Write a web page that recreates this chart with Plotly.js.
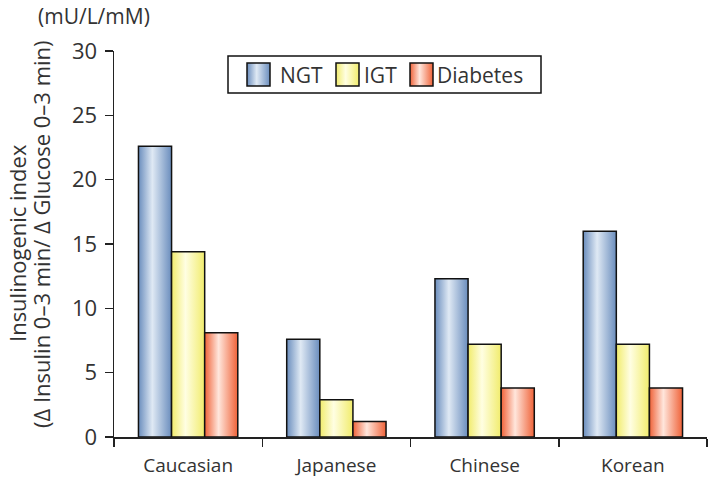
<!DOCTYPE html>
<html>
<head>
<meta charset="utf-8">
<script src="https://cdn.plot.ly/plotly-3.0.1.min.js"></script>
<style>
  html, body { margin: 0; padding: 0; background: #fff; }
  #chart { width: 709px; height: 481px; }
</style>
</head>
<body>
<div id="chart"></div>
<script>
// ---- Data ----
const categories = ["Caucasian", "Japanese", "Chinese", "Korean"];
const seriesNames = ["NGT", "IGT", "Diabetes"];
const ngtValues = [22.6, 7.6, 12.3, 16.0];
const igtValues = [14.4, 2.9, 7.2, 7.2];
const diabetesValues = [8.1, 1.2, 3.8, 3.8];
const yTickValues = [0, 5, 10, 15, 20, 25, 30];
const yTitleLines = ["Insulinogenic index", "(Δ Insulin 0–3 min/ Δ Glucose 0–3 min)"];
const unitLabel = "(mU/L/mM)";

// ---- Styles ----
const FONT = "Open Sans, Noto Sans, sans-serif";
const TEXT = "#333333";
const gradients = [
  { id: "gNGT", edge: "#6a8dbd", mid: "#dfe9f4" },
  { id: "gIGT", edge: "#f1ec6c", mid: "#fffee2" },
  { id: "gDIA", edge: "#ef6238", mid: "#ffe6dc" }
];

const W = 709, H = 481;
const M = { l: 114, r: 2, t: 51, b: 44 };
const pw = W - M.l - M.r, ph = H - M.t - M.b;
const px = x => (x - M.l) / pw;
const py = y => (H - M.b - y) / ph;

const values = [ngtValues, igtValues, diabetesValues];
const traces = seriesNames.map((name, i) => ({
  type: "bar",
  name: name,
  x: categories,
  y: values[i],
  marker: { color: gradients[i].edge, line: { color: "#111", width: 1.5 } },
  hoverinfo: "x+y+name"
}));

// Legend built from shapes + annotations
const legendBox = { type: "rect", xref: "paper", yref: "paper",
  x0: px(228), x1: px(541), y0: py(93), y1: py(56),
  line: { color: "#111", width: 1.5 }, fillcolor: "#fff", layer: "above" };
const swatchX = [247, 336, 410];
const textX = [278, 362, 435];
const shapes = [legendBox];
seriesNames.forEach((n, i) => {
  shapes.push({ type: "rect", xref: "paper", yref: "paper",
    x0: px(swatchX[i]), x1: px(swatchX[i] + 23), y0: py(86), y1: py(63),
    line: { color: "#111", width: 1.5 }, fillcolor: gradients[i].edge, layer: "above" });
});
const annotations = seriesNames.map((n, i) => ({
  xref: "paper", yref: "paper", x: px(textX[i]), y: py(75),
  xanchor: "left", yanchor: "middle", text: n, showarrow: false,
  font: { family: FONT, size: 21, color: TEXT }
}));
annotations.push({
  xref: "paper", yref: "paper", x: px(36), y: py(16),
  xanchor: "left", yanchor: "middle", text: unitLabel, showarrow: false,
  font: { family: FONT, size: 21, color: TEXT }
});
const titleX = [17, 41], titleY = [243, 234];
yTitleLines.forEach((t, i) => {
  annotations.push({
    xref: "paper", yref: "paper", x: px(titleX[i]), y: py(titleY[i]),
    xanchor: "center", yanchor: "middle", textangle: -90, text: t, showarrow: false,
    font: { family: FONT, size: 22, color: TEXT }
  });
});

const layout = {
  width: W, height: H,
  margin: M,
  paper_bgcolor: "#fff", plot_bgcolor: "#fff",
  showlegend: false,
  barmode: "group",
  bargap: 0.33,
  bargroupgap: 0,
  font: { family: FONT, size: 19, color: TEXT },
  xaxis: {
    type: "category",
    range: [-0.5, 3.5],
    tickson: "boundaries",
    ticks: "outside", ticklen: 8, tickwidth: 1.5, tickcolor: "#222",
    showline: true, linecolor: "#222", linewidth: 1.5,
    showgrid: false, zeroline: false,
    ticklabelstandoff: 11,
    tickfont: { family: FONT, size: 19, color: TEXT }
  },
  yaxis: {
    range: [0, 30],
    tickvals: yTickValues,
    ticks: "outside", ticklen: 8, tickwidth: 1.5, tickcolor: "#222",
    showline: true, linecolor: "#222", linewidth: 1.5,
    showgrid: false, zeroline: false,
    ticklabelstandoff: 3,
    tickfont: { family: FONT, size: 22, color: TEXT }
  },
  shapes: shapes,
  annotations: annotations
};

function applyGradients(gd) {
  const svg = gd.querySelector(".main-svg");
  let defs = svg.querySelector("defs");
  const NS = "http://www.w3.org/2000/svg";
  gradients.forEach(g => {
    if (document.getElementById(g.id)) return;
    const lg = document.createElementNS(NS, "linearGradient");
    lg.setAttribute("id", g.id);
    lg.setAttribute("x1", "0"); lg.setAttribute("x2", "1");
    lg.setAttribute("y1", "0"); lg.setAttribute("y2", "0");
    [[0, g.edge], [0.42, g.mid], [1, g.edge]].forEach(([o, c]) => {
      const s = document.createElementNS(NS, "stop");
      s.setAttribute("offset", o);
      s.setAttribute("stop-color", c);
      lg.appendChild(s);
    });
    defs.appendChild(lg);
  });
  const barTraces = gd.querySelectorAll(".barlayer .trace");
  barTraces.forEach((t, i) => {
    t.querySelectorAll(".point path").forEach(p => {
      p.style.fill = "url(#" + gradients[i].id + ")";
    });
  });
  for (let i = 0; i < 3; i++) {
    const p = gd.querySelector('.shapelayer path[data-index="' + (i + 1) + '"]');
    if (p) p.style.fill = "url(#" + gradients[i].id + ")";
  }
}

const gd = document.getElementById("chart");
Plotly.newPlot(gd, traces, layout, { displayModeBar: false, staticPlot: true })
  .then(() => applyGradients(gd));
</script>
</body>
</html>
